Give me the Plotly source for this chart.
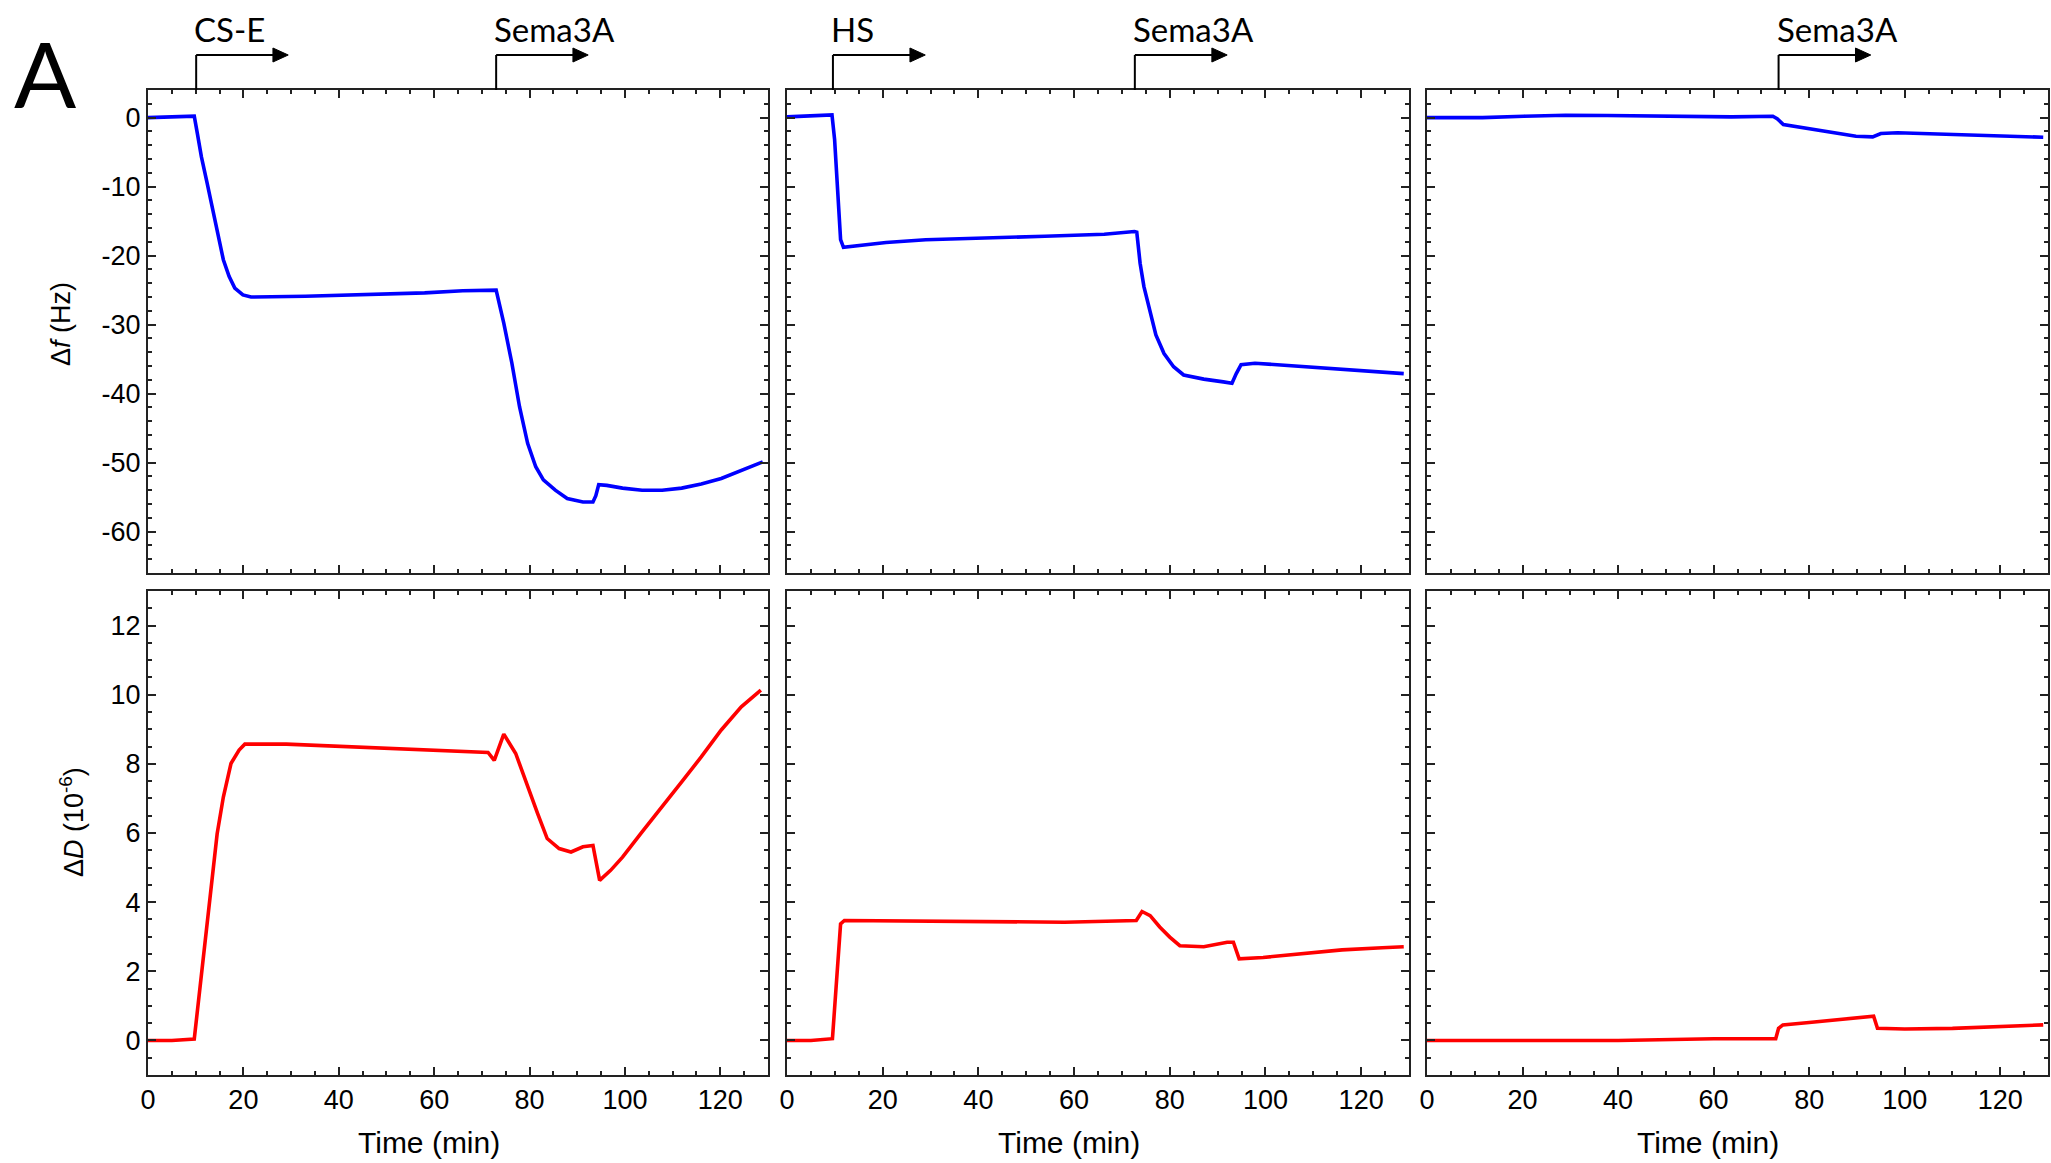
import plotly.graph_objects as go

# ---------------- data ----------------
# Panel 1 : CS-E then Sema3A
t_f1 = [0, 4, 8, 9.7, 10.4, 11.2, 12.4, 13.3, 14.1, 14.9, 15.8, 17.0, 18.2, 19.9, 21.6,
        33, 50, 58, 66, 73.0, 74.6, 76.3, 77.9, 79.6, 81.3, 82.9, 85.4, 87.9, 91.2, 93.3,
        93.9, 94.5, 96.2, 99.5, 103.6, 107.8, 111.9, 116.0, 120.2, 124.4, 128.9]
f1 = [0.0, 0.1, 0.2, 0.2, -2.5, -5.7, -9.5, -12.4, -15.3, -18.0, -20.6, -23.0, -24.7, -25.7, -26.0,
      -25.9, -25.6, -25.4, -25.1, -25.0, -29.8, -35.6, -41.9, -47.2, -50.6, -52.5, -54.0, -55.2, -55.7, -55.7,
      -54.8, -53.2, -53.3, -53.7, -54.0, -54.0, -53.7, -53.1, -52.3, -51.2, -49.9]

t_d1 = [0, 5, 9.7, 11.2, 12.4, 13.3, 14.5, 15.8, 17.4, 19.1, 20.3, 29, 41.5, 58, 71.3, 72.6,
        74.6, 77.1, 79.6, 81.7, 83.7, 86.2, 88.7, 91.2, 93.3, 94.7, 97.0, 99.5, 103.6, 107.8,
        111.9, 116.0, 120.2, 124.4, 128.5]
d1 = [0.0, 0.0, 0.04, 1.92, 3.37, 4.63, 5.98, 7.04, 8.01, 8.4, 8.57, 8.57, 8.5, 8.4, 8.33, 8.1,
      8.86, 8.3, 7.33, 6.56, 5.84, 5.55, 5.45, 5.6, 5.64, 4.63, 4.92, 5.3, 6.03, 6.75,
      7.48, 8.2, 8.98, 9.65, 10.13]

# Panel 2 : HS then Sema3A
t_f2 = [0, 5, 9.4, 9.95, 10.4, 10.8, 11.2, 11.8, 13.3, 16.6, 20.7, 29, 41.5, 53.9, 66.3, 72.6,
        73.1, 73.8, 74.6, 75.9, 77.1, 78.8, 80.8, 82.9, 87.1, 91.2, 93.0, 93.9, 94.9, 97.8,
        103.6, 111.9, 120.2, 128.9]
f2 = [0.1, 0.25, 0.4, -3.2, -9.0, -14.3, -17.7, -18.8, -18.7, -18.5, -18.1, -17.7, -17.5, -17.2, -16.9, -16.5,
      -16.6, -21.1, -24.5, -28.4, -31.5, -34.2, -36.1, -37.3, -37.9, -38.3, -38.5, -37.1, -35.8, -35.6,
      -35.9, -36.3, -36.7, -37.1]

t_d2 = [0, 5, 9.5, 9.95, 10.4, 10.8, 11.2, 12.0, 24.9, 41.5, 58, 73.0, 74.2, 75.9, 77.9, 80.0,
        82.1, 87.1, 92.0, 93.3, 94.5, 99.5, 107.8, 116.0, 124.4, 128.9]
d2 = [0.0, 0.0, 0.05, 0.96, 1.92, 2.9, 3.37, 3.47, 3.45, 3.42, 3.42, 3.47, 3.73, 3.61, 3.28, 2.99,
      2.74, 2.71, 2.84, 2.84, 2.36, 2.4, 2.5, 2.62, 2.68, 2.71]

# Panel 3 : Sema3A only
t_f3 = [0, 11.6, 20.3, 29, 37.7, 46.3, 55, 63.7, 72.4, 73.3, 74.6, 76.8, 81.1, 85.5, 89.8,
        93.3, 95.0, 98.5, 107.2, 115.9, 124.6, 129]
f3 = [0.0, 0.0, 0.2, 0.35, 0.3, 0.2, 0.1, 0.1, 0.2, -0.15, -1.0, -1.25, -1.7, -2.3, -2.7,
      -2.8, -2.3, -2.2, -2.4, -2.55, -2.8, -2.85]

t_d3 = [0, 20, 40, 60, 73.0, 73.6, 74.5, 80, 86, 92, 93.5, 94.3, 100, 110, 120, 129]
d3 = [0.0, 0.0, 0.0, 0.05, 0.05, 0.35, 0.45, 0.52, 0.6, 0.7, 0.7, 0.35, 0.33, 0.35, 0.4, 0.45]

# injections: (panel index, time, label)
inj_panel = [1, 1, 2, 2, 3]
inj_time = [10.1, 73.0, 9.6, 72.7, 73.6]
inj_label = ["CS-E", "Sema3A", "HS", "Sema3A", "Sema3A"]

x_ticks = [0, 20, 40, 60, 80, 100, 120]
x_tick_text = ["0", "20", "40", "60", "80", "100", "120"]
f_ticks = [0, -10, -20, -30, -40, -50, -60]
f_tick_text = ["0", "-10", "-20", "-30", "-40", "-50", "-60"]
d_ticks = [0, 2, 4, 6, 8, 10, 12]
d_tick_text = ["0", "2", "4", "6", "8", "10", "12"]

x_title = "Time (min)"
f_title = "\u0394<i>f</i> (Hz)"
d_title = "\u0394<i>D</i> (10<sup>-6</sup>)"

# ---------------- layout geometry ----------------
W, H = 2051, 1163
xdom = [[148 / W, 768 / W], [787 / W, 1409 / W], [1427 / W, 2048 / W]]
ydom_top = [1 - 573 / H, 1 - 90 / H]
ydom_bot = [1 - 1075 / H, 1 - 591 / H]

BLUE = "#0000FF"
RED = "#FF0000"
AX = "#222222"
FONT = "Liberation Sans, Arial, sans-serif"

fig = go.Figure()
series = [(t_f1, f1, BLUE), (t_f2, f2, BLUE), (t_f3, f3, BLUE),
          (t_d1, d1, RED), (t_d2, d2, RED), (t_d3, d3, RED)]
for i, (tx, vy, col) in enumerate(series):
    n = i + 1
    fig.add_trace(go.Scatter(x=tx, y=vy, mode="lines",
                             line=dict(color=col, width=3.6),
                             xaxis="x" if n == 1 else f"x{n}",
                             yaxis="y" if n == 1 else f"y{n}",
                             showlegend=False, hoverinfo="skip"))

common = dict(showline=True, linewidth=2, linecolor=AX, mirror="ticks",
              ticks="inside", ticklen=8, tickwidth=2, tickcolor=AX,
              showgrid=False, zeroline=False, automargin=False,
              tickfont=dict(family=FONT, size=27, color="black"))

layout = dict(width=W, height=H, margin=dict(l=0, r=0, t=0, b=0, autoexpand=False),
              plot_bgcolor="white", paper_bgcolor="white", showlegend=False)

for i in range(6):
    n = i + 1
    col = i % 3
    row = i // 3
    xk = "xaxis" if n == 1 else f"xaxis{n}"
    yk = "yaxis" if n == 1 else f"yaxis{n}"
    xa = dict(common, domain=xdom[col], range=[0, 130], tickvals=x_ticks, ticktext=x_tick_text,
              anchor="y" if n == 1 else f"y{n}",
              minor=dict(dtick=5, tick0=0, ticklen=4, tickwidth=2, tickcolor=AX, ticks="inside", showgrid=False),
              showticklabels=(row == 1))
    if row == 0:
        ya = dict(common, domain=ydom_top, range=[-66, 4], tickvals=f_ticks, ticktext=f_tick_text,
                  minor=dict(dtick=2, tick0=0, ticklen=4, tickwidth=2, tickcolor=AX, ticks="inside", showgrid=False))
    else:
        ya = dict(common, domain=ydom_bot, range=[-1, 13], tickvals=d_ticks, ticktext=d_tick_text,
                  minor=dict(dtick=0.5, tick0=0, ticklen=4, tickwidth=2, tickcolor=AX, ticks="inside", showgrid=False))
    ya["anchor"] = "x" if n == 1 else f"x{n}"
    ya["showticklabels"] = (col == 0)
    layout[xk] = xa
    layout[yk] = ya

fig.update_layout(**layout)

# ---------------- injection arrows ----------------
plot_h = 573 - 90
rise = 35 / plot_h          # vertical stem height (domain units)
arrow_len = 19.3            # minutes
head_len = 3.2              # minutes
head_half = 7 / plot_h
shapes = []
annotations = []
for p, t, lab in zip(inj_panel, inj_time, inj_label):
    xr = "x" if p == 1 else f"x{p}"
    yr = ("y" if p == 1 else f"y{p}") + " domain"
    yl = 1 + rise
    shapes.append(dict(type="line", xref=xr, yref=yr, x0=t, x1=t, y0=1, y1=yl,
                       line=dict(color="black", width=2)))
    shapes.append(dict(type="line", xref=xr, yref=yr, x0=t, x1=t + arrow_len - head_len + 0.3, y0=yl, y1=yl,
                       line=dict(color="black", width=2)))
    hx = t + arrow_len - head_len
    shapes.append(dict(type="path", xref=xr, yref=yr,
                       path=f"M {hx},{yl - head_half} L {t + arrow_len},{yl} L {hx},{yl + head_half} Z",
                       fillcolor="black", line=dict(color="black", width=1)))
    annotations.append(dict(xref=xr, yref=yr, x=t, y=yl + 0.008, text=lab, showarrow=False,
                            xanchor="left", yanchor="bottom", xshift=-4,
                            font=dict(family="Lato, Open Sans, sans-serif", size=33, color="black")))

# axis titles (slightly off-centre in the reference, so placed as annotations)
for col in range(3):
    cx = (xdom[col][0] + xdom[col][1]) / 2 - 29 / W
    annotations.append(dict(xref="paper", yref="paper", x=cx, y=1 - 1142 / H, text=x_title,
                            showarrow=False, xanchor="center", yanchor="middle",
                            font=dict(family=FONT, size=30, color="black")))
annotations.append(dict(xref="paper", yref="paper", x=61 / W, y=1 - 324 / H, text=f_title,
                        showarrow=False, textangle=-90, xanchor="center", yanchor="middle",
                        font=dict(family=FONT, size=27, color="black")))
annotations.append(dict(xref="paper", yref="paper", x=72 / W, y=1 - 822 / H, text=d_title,
                        showarrow=False, textangle=-90, xanchor="center", yanchor="middle",
                        font=dict(family=FONT, size=27, color="black")))

annotations.append(dict(xref="paper", yref="paper", x=12 / W, y=1 - 72 / H, text="A", showarrow=False,
                        xanchor="left", yanchor="middle",
                        font=dict(family="Lato, Liberation Sans, sans-serif", size=92, color="black")))

fig.update_layout(shapes=shapes, annotations=annotations)
fig.write_html("out.html")
